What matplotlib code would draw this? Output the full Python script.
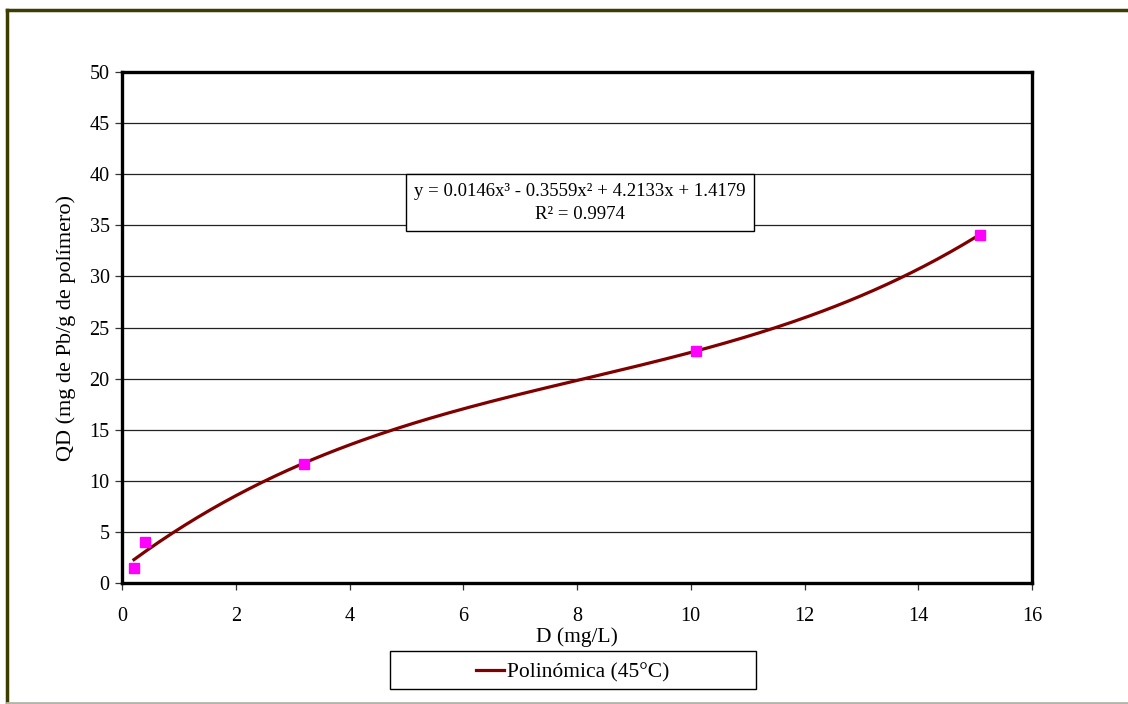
import numpy as np
import matplotlib.pyplot as plt
from matplotlib.patches import Rectangle
from matplotlib.lines import Line2D

plt.rcParams['font.family'] = ['Liberation Serif', 'DejaVu Serif']

# measured points (45 °C)
d_mgL = [0.21, 0.40, 3.2, 10.09, 15.08]
qd = [1.45, 4.05, 11.65, 22.7, 34.05]

# cubic trendline coefficients (as printed on the chart)
coef = [0.0146, -0.3559, 4.2133, 1.4179]
eq_text = "y = 0.0146x³ - 0.3559x² + 4.2133x + 1.4179\nR² = 0.9974"

xticks = list(range(0, 17, 2))
yticks = list(range(0, 51, 5))

fig = plt.figure(figsize=(11.28, 7.04), dpi=100)
fig.patch.set_facecolor('white')

# outer chart frame
fig.add_artist(Line2D([0.006, 1.0], [0.986, 0.986], transform=fig.transFigure,
                      color='#3d3d00', lw=2.5))
fig.add_artist(Line2D([0.0066, 0.0066], [0.0, 0.986], transform=fig.transFigure,
                      color='#3d3d00', lw=2.5))
fig.add_artist(Line2D([0.0066, 1.0], [0.002, 0.002], transform=fig.transFigure,
                      color='#b4b4a8', lw=2.0))

ax = fig.add_axes([0.1082, 0.1719, 0.8067, 0.7258])

xs = np.linspace(min(d_mgL), max(d_mgL), 200)
ax.plot(xs, np.polyval(coef, xs), color='#800000', lw=2.3, zorder=3)
ax.plot(d_mgL, qd, 's', color='#ff00ff', markersize=6.5, zorder=4, linestyle='none')

ax.set_xlim(0, 16)
ax.set_ylim(0, 50)
ax.set_xticks(xticks)
ax.set_yticks(yticks)
ax.yaxis.grid(True, color='#222222', lw=0.9)
ax.set_axisbelow(True)
for s in ax.spines.values():
    s.set_linewidth(2.4)
    s.set_color('black')
ax.tick_params(axis='both', direction='out', length=5, width=0.9,
               labelsize=14.5, color='#333333')
ax.tick_params(axis='x', pad=12)
ax.tick_params(axis='y', pad=4)

ax.set_xlabel("D (mg/L)", fontsize=15.5, labelpad=1)
ax.set_ylabel("QD (mg de Pb/g de polímero)", fontsize=16, labelpad=10)

# equation box
ax.text(0.503, 0.744, eq_text, transform=ax.transAxes, ha='center', va='center',
        fontsize=13.5, linespacing=1.45,
        bbox=dict(boxstyle='square,pad=0.45', facecolor='white', edgecolor='black', lw=1.0))

# legend box
fig.add_artist(Rectangle((390 / 1128, 1 - 689 / 704), 366 / 1128, 38 / 704,
                         transform=fig.transFigure, facecolor='white',
                         edgecolor='black', lw=1.0))
fig.add_artist(Line2D([476 / 1128, 504 / 1128], [1 - 670 / 704, 1 - 670 / 704],
                      transform=fig.transFigure, color='#800000', lw=2.3))
fig.text(507 / 1128, 1 - 673 / 704, "Polinómica (45°C)", ha='left', va='center',
         fontsize=15.5)

fig.savefig('out.png', dpi=100)
